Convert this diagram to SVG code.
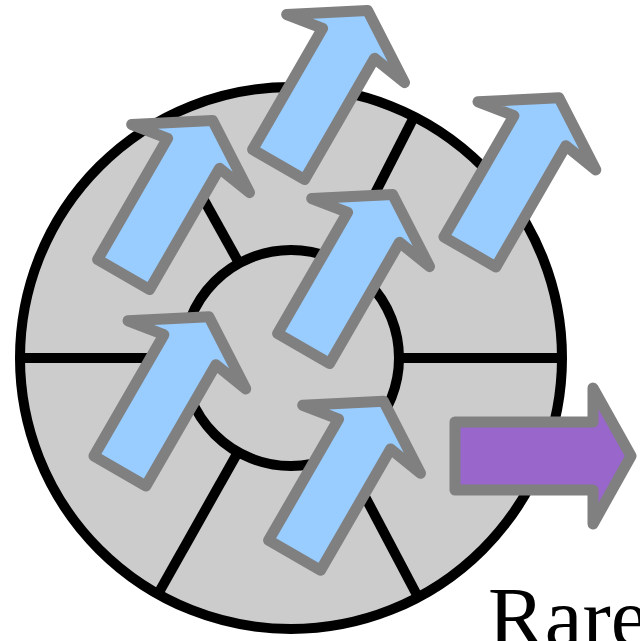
<svg xmlns="http://www.w3.org/2000/svg" width="640" height="641" viewBox="0 0 640 641">
  <style>
    .disk { fill: #cccccc; stroke: #000000; stroke-width: 10; }
    .spoke { stroke: #000000; stroke-width: 10; fill: none; }
    .up { fill: #99ccff; stroke: #808080; stroke-width: 11; stroke-linejoin: round; }
    .out { fill: #9966cc; stroke: #808080; stroke-width: 11; stroke-linejoin: round; }
    .label { font-family: "Liberation Serif", "Times New Roman", serif; font-size: 85px; fill: #000000; }
  </style>
  <defs>
    <path id="arrowShape" d="M -30,0 L -30,-140 L -68,-134 L 0,-178 L 68,-134 L 30,-140 L 30,0 Z"/>
  </defs>
  <rect x="0" y="0" width="640" height="641" fill="#ffffff"/>

  <g id="wheel">
    <circle class="disk" cx="291" cy="358" r="271"/>
    <circle class="disk" cx="291" cy="358" r="108"/>
  </g>

  <g id="connectors">
    <line class="spoke" x1="20" y1="358" x2="183" y2="358"/>
    <line class="spoke" x1="399" y1="358" x2="562" y2="358"/>
    <line class="spoke" x1="340" y1="262" x2="414" y2="117"/>
    <line class="spoke" x1="239" y1="263" x2="160" y2="121"/>
    <line class="spoke" x1="238" y1="452" x2="158" y2="594"/>
    <line class="spoke" x1="342" y1="453" x2="418" y2="597"/>
  </g>

  <g id="arrow-a"><use href="#arrowShape" class="up" transform="translate(278.6,164.6) rotate(30)"/></g>
  <g id="arrow-b"><use href="#arrowShape" class="up" transform="translate(123.6,274.6) rotate(30)"/></g>
  <g id="arrow-c"><use href="#arrowShape" class="up" transform="translate(469.9,251.9) rotate(30)"/></g>
  <g id="arrow-d"><use href="#arrowShape" class="up" transform="translate(303.6,348.6) rotate(30)"/></g>
  <g id="arrow-e"><use href="#arrowShape" class="up" transform="translate(119.9,470.9) rotate(30)"/></g>
  <g id="arrow-f"><use href="#arrowShape" class="up" transform="translate(294.6,555.3) rotate(30)"/></g>

  <g id="output-arrow">
    <path class="out" d="M 455,422 L 593,422 L 593,388 L 631,456 L 593,524 L 593,490 L 455,490 Z"/>
  </g>

  <g id="label">
    <text class="label" x="488" y="646">Rare</text>
  </g>
</svg>
